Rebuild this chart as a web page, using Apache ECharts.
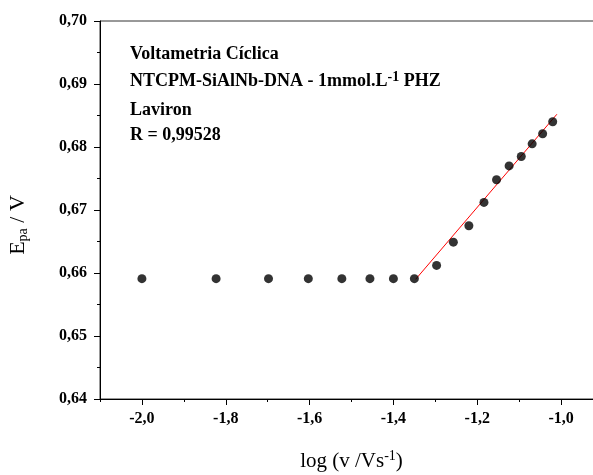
<!DOCTYPE html>
<html><head><meta charset="utf-8">
<script src="https://cdn.jsdelivr.net/npm/echarts@6/dist/echarts.min.js"></script>
<style>html,body{margin:0;padding:0;background:#fff}#c{width:593px;height:475px}</style>
</head><body><div id="c"></div>
<script>
const logV = [-2.0, -1.823, -1.698, -1.603, -1.523, -1.456, -1.400, -1.350, -1.297, -1.257, -1.220, -1.184, -1.154, -1.124, -1.095, -1.069, -1.044, -1.020];
const Epa = [0.6591, 0.6591, 0.6591, 0.6591, 0.6591, 0.6591, 0.6591, 0.6591, 0.6612, 0.6649, 0.6675, 0.6712, 0.6748, 0.6770, 0.6785, 0.6805, 0.6821, 0.6840];
const fitX = [-1.347, -1.010];
const fitY = [0.6590, 0.6852];
const xMajor = [-2.0, -1.8, -1.6, -1.4, -1.2, -1.0];
const xMinor = [-2.1, -1.9, -1.7, -1.5, -1.3, -1.1, -0.9];
const notes = ['Voltametria Cíclica', 'NTCPM-SiAlNb-DNA - 1mmol.L', '-1', ' PHZ', 'Laviron', 'R = 0,99528'];

const serif = 'Liberation Serif';
const chart = echarts.init(document.getElementById('c'), null, {renderer: 'canvas'});
const noteStyle = {fontFamily: serif, fontWeight: 'bold', fontSize: 18, fill: '#000'};
chart.setOption({
  animation: false,
  grid: {left: 100, top: 21, width: 503, bottom: 76, containLabel: false, outerBoundsMode: 'none',
    show: true, borderColor: '#333', borderWidth: 1},
  xAxis: [{
    type: 'value', min: -2.1, max: -0.9, position: 'bottom',
    axisLine: {onZero: false, lineStyle: {color: '#000', width: 1}},
    axisTick: {customValues: xMajor, length: 6, lineStyle: {color: '#000'}},
    axisLabel: {customValues: xMajor, margin: 12, color: '#000', fontFamily: serif, fontWeight: 'bold', fontSize: 16,
      formatter: v => v.toFixed(1).replace('.', ',')},
    splitLine: {show: false},
    name: '{a|log (v /Vs}{s|-1}{a|)}', nameLocation: 'middle', nameGap: 50,
    nameTextStyle: {rich: {
      a: {fontFamily: serif, fontSize: 21, color: '#000'},
      s: {fontFamily: serif, fontSize: 14, color: '#000', verticalAlign: 'top', padding: [0, 0, 11, 0]}
    }}
  }, {
    type: 'value', min: -2.1, max: -0.9, position: 'bottom',
    axisLine: {show: false},
    axisTick: {customValues: xMinor, length: 3, lineStyle: {color: '#000'}},
    axisLabel: {show: false}, splitLine: {show: false}
  }],
  yAxis: {
    type: 'value', min: 0.64, max: 0.70, interval: 0.01,
    axisLine: {show: true, onZero: false, lineStyle: {color: '#000', width: 1}},
    axisTick: {show: true, length: 6, lineStyle: {color: '#000'}},
    minorTick: {show: true, splitNumber: 2, length: 3, lineStyle: {color: '#000'}},
    axisLabel: {margin: 13, color: '#000', fontFamily: serif, fontWeight: 'bold', fontSize: 16,
      formatter: v => v.toFixed(2).replace('.', ',')},
    splitLine: {show: false},
    name: '{a|E}{s|pa}{a| / V}', nameLocation: 'middle', nameGap: 70,
    nameTextStyle: {padding: [0, 30, 0, 0], rich: {
      a: {fontFamily: serif, fontSize: 22, color: '#000'},
      s: {fontFamily: serif, fontSize: 14, color: '#000', verticalAlign: 'bottom', padding: [10, 0, 0, 0]}
    }}
  },
  series: [{
    type: 'line', data: fitX.map((x, i) => [x, fitY[i]]), symbol: 'none',
    lineStyle: {color: '#ff0000', width: 1}, z: 2
  }, {
    type: 'scatter', data: logV.map((x, i) => [x, Epa[i]]), symbol: 'circle', symbolSize: 9,
    itemStyle: {color: '#000'}, z: 3
  }],
  graphic: [
    {type: 'text', left: 130, top: 45, style: Object.assign({text: notes[0]}, noteStyle)},
    {type: 'text', left: 130, top: 70, style: {
      text: '{b|' + notes[1] + '}{s|' + notes[2] + '}{b|' + notes[3] + '}',
      rich: {
        b: {fontFamily: serif, fontWeight: 'bold', fontSize: 18, fill: '#000'},
        s: {fontFamily: serif, fontWeight: 'bold', fontSize: 14, fill: '#000', verticalAlign: 'top', padding: [0, 0, 9, 0]}
      }}},
    {type: 'text', left: 130, top: 101, style: Object.assign({text: notes[4]}, noteStyle)},
    {type: 'text', left: 130, top: 126, style: Object.assign({text: notes[5]}, noteStyle)}
  ]
});
</script></body></html>
